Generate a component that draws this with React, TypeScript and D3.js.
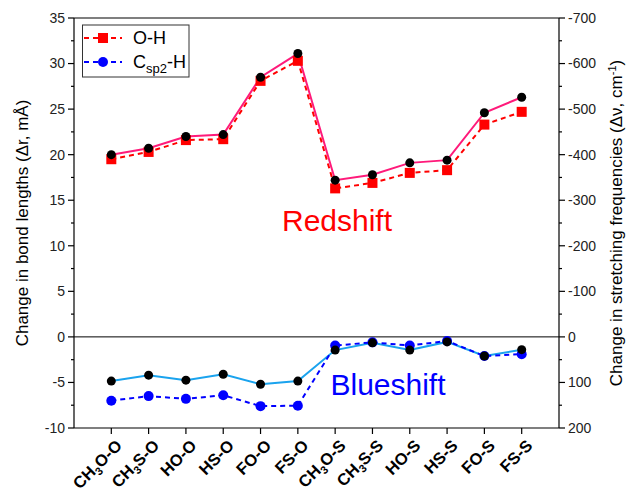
import React from "react";
import * as d3 from "d3";

const categories = ["CH3O-O", "CH3S-O", "HO-O", "HS-O", "FO-O", "FS-O", "CH3O-S", "CH3S-S", "HO-S", "HS-S", "FO-S", "FS-S"];
// bond length changes (mÅ), left axis
const ohBond = [19.5, 20.3, 21.6, 21.7, 28.1, 30.3, 16.3, 16.9, 18.0, 18.3, 23.3, 24.7];
const cspBond = [-7.0, -6.5, -6.8, -6.4, -7.6, -7.55, -0.95, -0.6, -0.95, -0.45, -2.1, -1.9];
// stretching frequency changes (cm^-1), right axis
const ohFreq = [-400, -414, -440, -444, -570, -622, -344, -356, -382, -388, -492, -526];
const cspFreq = [97, 84, 95, 82, 104, 97, 29, 13, 29, 11, 42, 28];
const leftTicks = [35, 30, 25, 20, 15, 10, 5, 0, -5, -10];
const rightTicks = [-700, -600, -500, -400, -300, -200, -100, 0, 100, 200];

const W = 631, H = 496;
const L = 74, R = 559, T = 18, B = 428;

function Label({ name }: { name: string }) {
  const m = name.match(/^CH3(.*)$/);
  if (m) {
    return (
      <>
        CH<tspan fontSize={11} dy={4}>3</tspan><tspan dy={-4}>{m[1]}</tspan>
      </>
    );
  }
  return <>{name}</>;
}

export default function App() {
  const x = d3.scaleLinear().domain([0, 13]).range([L, R]);
  const yL = d3.scaleLinear().domain([-10, 35]).range([B, T]);
  const yR = d3.scaleLinear().domain([200, -700]).range([B, T]);
  const idx = categories.map((_, i) => i + 1);

  const line = (vals: number[], y: d3.ScaleLinear<number, number>) =>
    d3.line<number>().x((_, i) => x(i + 1)).y((v) => y(v))(vals) || "";

  const minorL = d3.range(-10, 35.01, 2.5).filter((v) => v % 5 !== 0);
  const minorR = d3.range(-700, 200.01, 50).filter((v) => v % 100 !== 0);
  const font = "Arial, 'Liberation Sans', sans-serif";

  return (
    <svg width={W} height={H} style={{ position: "absolute", left: 0, top: 0 }} fontFamily={font}>
      <rect x={0} y={0} width={W} height={H} fill="#fff" />
      {/* frame */}
      <line x1={L} x2={R} y1={T} y2={T} stroke="#000" strokeWidth={1.2} />
      <line x1={L} x2={L} y1={T} y2={B} stroke="#000" strokeWidth={1.2} />
      <line x1={R} x2={R} y1={T} y2={B} stroke="#000" strokeWidth={1.2} />
      <line x1={L} x2={R} y1={B} y2={B} stroke="#000" strokeWidth={1.2} />
      <line x1={L} x2={R} y1={yL(0)} y2={yL(0)} stroke="#000" strokeWidth={1} />

      {/* left ticks */}
      {leftTicks.map((t) => (
        <g key={"l" + t}>
          <line x1={L - 6} x2={L} y1={yL(t)} y2={yL(t)} stroke="#000" strokeWidth={1.2} />
          <text x={L - 9} y={yL(t)} dy="0.35em" textAnchor="end" fontSize={14} fill="#222">{t}</text>
        </g>
      ))}
      {minorL.map((t) => (
        <line key={"lm" + t} x1={L - 3} x2={L} y1={yL(t)} y2={yL(t)} stroke="#000" strokeWidth={1.2} />
      ))}
      {/* right ticks */}
      {rightTicks.map((t) => (
        <g key={"r" + t}>
          <line x1={R} x2={R + 6} y1={yR(t)} y2={yR(t)} stroke="#000" strokeWidth={1.2} />
          <text x={R + 9} y={yR(t)} dy="0.35em" textAnchor="start" fontSize={14} fill="#222">{t}</text>
        </g>
      ))}
      {minorR.map((t) => (
        <line key={"rm" + t} x1={R} x2={R + 3} y1={yR(t)} y2={yR(t)} stroke="#000" strokeWidth={1.2} />
      ))}
      {/* x ticks */}
      {idx.map((i) => (
        <g key={"x" + i}>
          <line x1={x(i)} x2={x(i)} y1={B} y2={B + 6} stroke="#000" strokeWidth={1.2} />
          <text
            transform={`translate(${x(i) + 3},${B + 10}) rotate(-45)`}
            textAnchor="end"
            dy="0.75em"
            fontSize={16.5}
            fontWeight="bold"
            fill="#000"
          >
            <Label name={categories[i - 1]} />
          </text>
        </g>
      ))}

      {/* frequency lines */}
      <path d={line(ohFreq, yR)} fill="none" stroke="#FF1A7A" strokeWidth={2} />
      <path d={line(cspFreq, yR)} fill="none" stroke="#1AA3EE" strokeWidth={2} />

      {/* bond length lines */}
      <path d={line(ohBond, yL)} fill="none" stroke="#FF0000" strokeWidth={2} strokeDasharray="5,4" />
      <path d={line(cspBond, yL)} fill="none" stroke="#0000FF" strokeWidth={2} strokeDasharray="5,4" />

      {ohBond.map((v, i) => (
        <rect key={"os" + i} x={x(i + 1) - 5} y={yL(v) - 5} width={10} height={10} fill="#FF0000" />
      ))}
      {cspBond.map((v, i) => (
        <circle key={"cs" + i} cx={x(i + 1)} cy={yL(v)} r={5} fill="#0000FF" />
      ))}
      {ohFreq.map((v, i) => (
        <circle key={"of" + i} cx={x(i + 1)} cy={yR(v)} r={4.5} fill="#000" />
      ))}
      {cspFreq.map((v, i) => (
        <circle key={"cf" + i} cx={x(i + 1)} cy={yR(v)} r={4.5} fill="#000" />
      ))}

      {/* annotations */}
      <text x={337} y={231} textAnchor="middle" fontSize={30} fill="#FF0000">Redshift</text>
      <text x={388} y={395} textAnchor="middle" fontSize={30} fill="#0000FF">Blueshift</text>

      {/* legend */}
      <rect x={82.5} y={25} width={106.5} height={52} fill="#fff" stroke="#333" strokeWidth={1} />
      <line x1={84} x2={122} y1={38} y2={38} stroke="#FF0000" strokeWidth={2} strokeDasharray="5,4" />
      <rect x={98} y={33} width={10} height={10} fill="#FF0000" />
      <text x={133} y={38} dy="0.36em" fontSize={18} fill="#000">O-H</text>
      <line x1={84} x2={122} y1={62} y2={62} stroke="#0000FF" strokeWidth={2} strokeDasharray="5,4" />
      <circle cx={103} cy={62} r={5} fill="#0000FF" />
      <text x={133} y={62} dy="0.36em" fontSize={18} fill="#000">
        C<tspan fontSize={13} dy={5}>sp2</tspan><tspan dy={-5}>-H</tspan>
      </text>

      {/* axis titles */}
      <text transform={`translate(28,${(T + B) / 2}) rotate(-90)`} textAnchor="middle" fontSize={17} fill="#000">
        Change in bond lengths (Δr, mÅ)
      </text>
      <text transform={`translate(622,${(T + B) / 2}) rotate(-90)`} textAnchor="middle" fontSize={17} fill="#000">
        Change in stretching frequencies (Δν, cm<tspan fontSize={11} dy={-6}>-1</tspan><tspan dy={6}>)</tspan>
      </text>
    </svg>
  );
}
